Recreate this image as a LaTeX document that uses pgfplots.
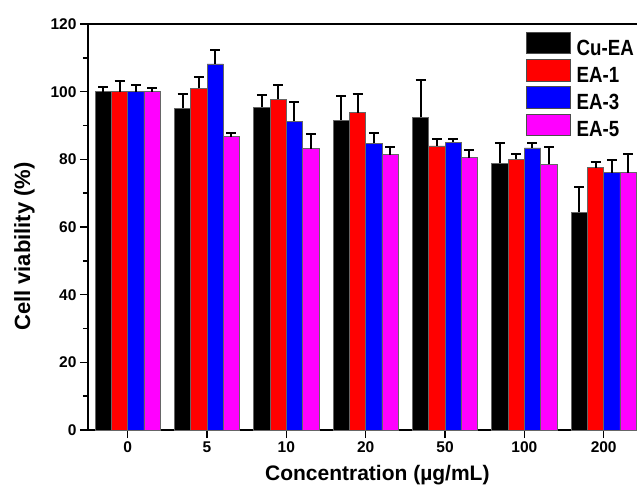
\documentclass[border=0pt]{standalone}
\usepackage{fontspec}
\setmainfont{Liberation Sans}
\newfontfamily\legfont[FakeStretch=0.85]{Liberation Sans}
\usepackage{pgfplots}
\usepackage{pgfplotstable}
\pgfplotsset{compat=1.18}
\definecolor{cred}{RGB}{255,0,0}
\definecolor{cblue}{RGB}{0,0,255}
\definecolor{cmag}{RGB}{255,0,255}

\pgfplotstableread{
x y e
0 100.0 1.5
1 95.1 4.2
2 95.4 3.6
3 91.6 7.1
4 92.4 11.1
5 78.8 5.9
6 64.3 7.4
}\cuea
\pgfplotstableread{
x y e
0 100.0 3.3
1 101.0 3.4
2 97.7 4.3
3 93.8 5.6
4 84.0 1.9
5 80.0 1.6
6 77.5 1.8
}\eaone
\pgfplotstableread{
x y e
0 100.0 2.0
1 108.2 4.2
2 91.2 5.7
3 84.7 3.2
4 85.1 1.0
5 83.4 1.3
6 76.1 3.7
}\eathree
\pgfplotstableread{
x y e
0 100.0 1.2
1 86.7 1.2
2 83.2 4.4
3 81.4 2.1
4 80.5 2.3
5 78.5 5.0
6 76.1 5.4
}\eafive

\begin{document}
\begin{tikzpicture}
\begin{axis}[
  at={(0,0)}, anchor=south west,
  scale only axis, width=549pt, height=406pt,
  xmin=-0.5, xmax=6.42, ymin=0, ymax=120,
  ybar=0pt, bar width=16.3pt,
  legend image code/.code={\draw[#1, draw=black!70, line width=0.6pt] (0pt,-5.3pt) rectangle (44pt,16.3pt);},
  axis x line*=box, axis y line*=left,
  axis line style={line width=2pt},
  xtick={0,...,6}, xticklabels={0,5,10,20,50,100,200},
  ytick={0,20,...,120}, minor y tick num=1,
  xtick pos=left, ytick pos=left,
  tick align=outside, major tick length=8pt, minor tick length=5pt,
  every tick/.style={line width=1.6pt, black},
  minor tick style={line width=1.6pt, black},
  /pgf/number format/assume math mode=true,
  tick label style={font=\fontsize{15.5}{18}\selectfont\bfseries},
  every axis x label/.style={at={(axis description cs:0.527,0)}, anchor=base, yshift=-50pt, font=\fontsize{21}{24}\selectfont\bfseries},
  every axis y label/.style={at={(axis description cs:-0.1157,0.452)}, rotate=90, anchor=center, font=\fontsize{22}{25}\selectfont\bfseries},
  xlabel={Concentration (µg/mL)},
  ylabel={Cell viability (\%)},
  error bars/y dir=plus, error bars/y explicit,
  error bars/error bar style={line width=2pt, black},
  error bars/error mark options={rotate=90, mark size=5pt, line width=2pt, black},
  legend style={at={(1,1)}, anchor=north east, draw=none, fill=none,
    font=\legfont\fontsize{22}{24}\selectfont\bfseries, row sep=1.3pt,
    inner sep=0pt, xshift=-2pt, yshift=-7.5pt,
    nodes={inner sep=1pt},
    /tikz/every odd column/.append style={column sep=5pt}},
  legend cell align=left,
]
\addplot[fill=black, draw=black!60, line width=0.6pt] table[x=x, y=y, y error=e] {\cuea};
\addplot[fill=cred, draw=black!60, line width=0.6pt] table[x=x, y=y, y error=e] {\eaone};
\addplot[fill=cblue, draw=black!60, line width=0.6pt] table[x=x, y=y, y error=e] {\eathree};
\addplot[fill=cmag, draw=black!60, line width=0.6pt] table[x=x, y=y, y error=e] {\eafive};
\legend{Cu-EA, EA-1, EA-3, EA-5}
\end{axis}
\pgfresetboundingbox
\path[use as bounding box] (-88pt,-58pt) rectangle (549pt,430pt);
\end{tikzpicture}
\end{document}
